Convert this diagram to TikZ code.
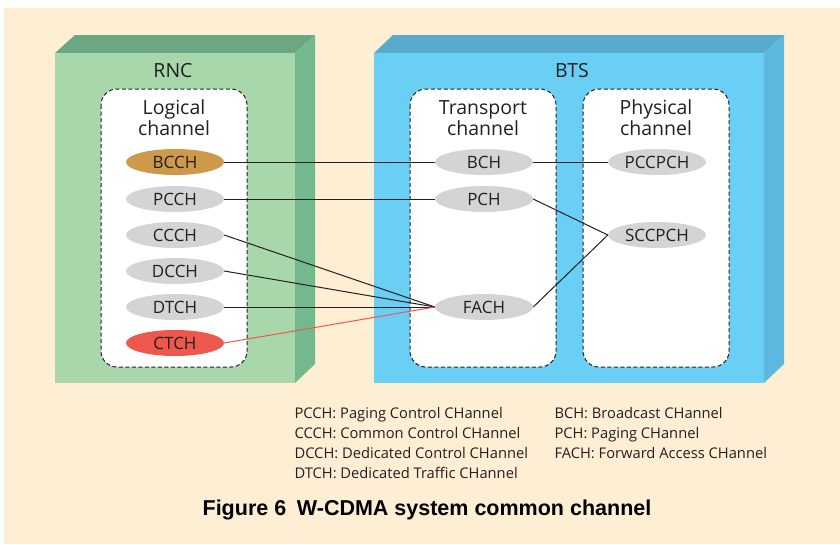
\documentclass[tikz,border=0pt]{standalone}
\usepackage{fontspec}
\setmainfont{Open Sans}
\newfontfamily\capfont{Liberation Sans}
\usepackage{tikz}
\usetikzlibrary{positioning}
\usetikzlibrary{calc}
\usetikzlibrary{shapes.geometric}
\definecolor{cream}{RGB}{254,239,212}
\definecolor{rnc-front}{RGB}{168,215,172}
\definecolor{rnc-top}{RGB}{106,167,130}
\definecolor{rnc-side}{RGB}{116,184,142}
\definecolor{bts-front}{RGB}{106,207,244}
\definecolor{bts-top}{RGB}{88,170,204}
\definecolor{bts-side}{RGB}{94,184,222}
\definecolor{chan-grey}{RGB}{212,212,214}
\definecolor{chan-gold}{RGB}{205,154,75}
\definecolor{chan-red}{RGB}{238,88,76}
\definecolor{ink}{RGB}{35,31,32}

\begin{document}
\begin{tikzpicture}[x=1pt,y=-1pt, font=\fontsize{17}{20}\selectfont, text=ink,
  chan/.style={ellipse,fill=chan-grey,minimum width=98pt,minimum height=26pt,inner sep=0pt},
  group/.style={draw=ink,dash pattern=on 4pt off 2.5pt,fill=white,rounded corners=16pt,line width=1pt},
  title/.style={align=center,font=\fontsize{19.5}{21}\selectfont},
  link/.style={draw=ink,line width=1pt},
  legend/.style={anchor=base west,font=\fontsize{14.7}{16}\selectfont}]
\useasboundingbox (0,0) rectangle (840,544);
\fill[cream] (4,8) rectangle (840,544);

% RNC block
\fill[rnc-top] (55,53) -- (75,35) -- (315,35) -- (295,53) -- cycle;
\fill[rnc-side] (295,53) -- (315,35) -- (315,364) -- (295,383) -- cycle;
\fill[rnc-front] (55,53) rectangle (295,383);
\node[title] (rnc) at (173,71) {RNC};

% BTS block
\fill[bts-top] (374,53) -- (393,35) -- (784,35) -- (764,53) -- cycle;
\fill[bts-side] (764,53) -- (784,35) -- (784,364) -- (764,383) -- cycle;
\fill[bts-front] (374,53) rectangle (764,383);
\node[title] (bts) at (572,71) {BTS};

\draw[group] (101,89) rectangle (247,367);
\draw[group] (410,89) rectangle (556,367);
\draw[group] (583,89) rectangle (729,367);
\node[title] (logical) at (174,118) {Logical\\channel};
\node[title] (transport) at (483,118) {Transport\\channel};
\node[title] (physical) at (656,118) {Physical\\channel};

\node[chan,fill=chan-gold] (bcch) at (175,162) {BCCH};
\node[chan] (pcch) at (175,199) {PCCH};
\node[chan] (ccch) at (175,235) {CCCH};
\node[chan] (dcch) at (175,271) {DCCH};
\node[chan] (dtch) at (175,307) {DTCH};
\node[chan,fill=chan-red] (ctch) at (175,343) {CTCH};

\node[chan] (bch) at (484,162) {BCH};
\node[chan] (pch) at (484,199) {PCH};
\node[chan] (fach) at (484,307) {FACH};

\node[chan] (pccpch) at (657,162) {PCCPCH};
\node[chan] (sccpch) at (657,235) {SCCPCH};

\draw[link] (bcch) -- (bch);
\draw[link] (pcch) -- (pch);
\draw[link] (ccch.east) -- (fach.west);
\draw[link] (dcch.east) -- (fach.west);
\draw[link] (dtch.east) -- (fach.west);
\draw[link,draw=chan-red] (ctch.east) -- (fach.west);
\draw[link] (bch) -- (pccpch);
\draw[link] (pch.east) -- (sccpch.west);
\draw[link] (fach.east) -- (sccpch.west);

% key
\node[legend] (k1) at (291,418) {PCCH: Paging Control CHannel};
\node[legend] (k2) at (291,438) {CCCH: Common Control CHannel};
\node[legend] (k3) at (291,458) {DCCH: Dedicated Control CHannel};
\node[legend] (k4) at (291,478) {DTCH: Dedicated Traffic CHannel};
\node[legend] (k5) at (551,418) {BCH: Broadcast CHannel};
\node[legend] (k6) at (551,438) {PCH: Paging CHannel};
\node[legend] (k7) at (551,458) {FACH: Forward Access CHannel};

\node[anchor=base,text=black,font=\capfont\bfseries\fontsize{21.5}{24}\selectfont] (caption) at (427,515) {Figure 6\enspace W-CDMA system common channel};
\end{tikzpicture}
\end{document}
